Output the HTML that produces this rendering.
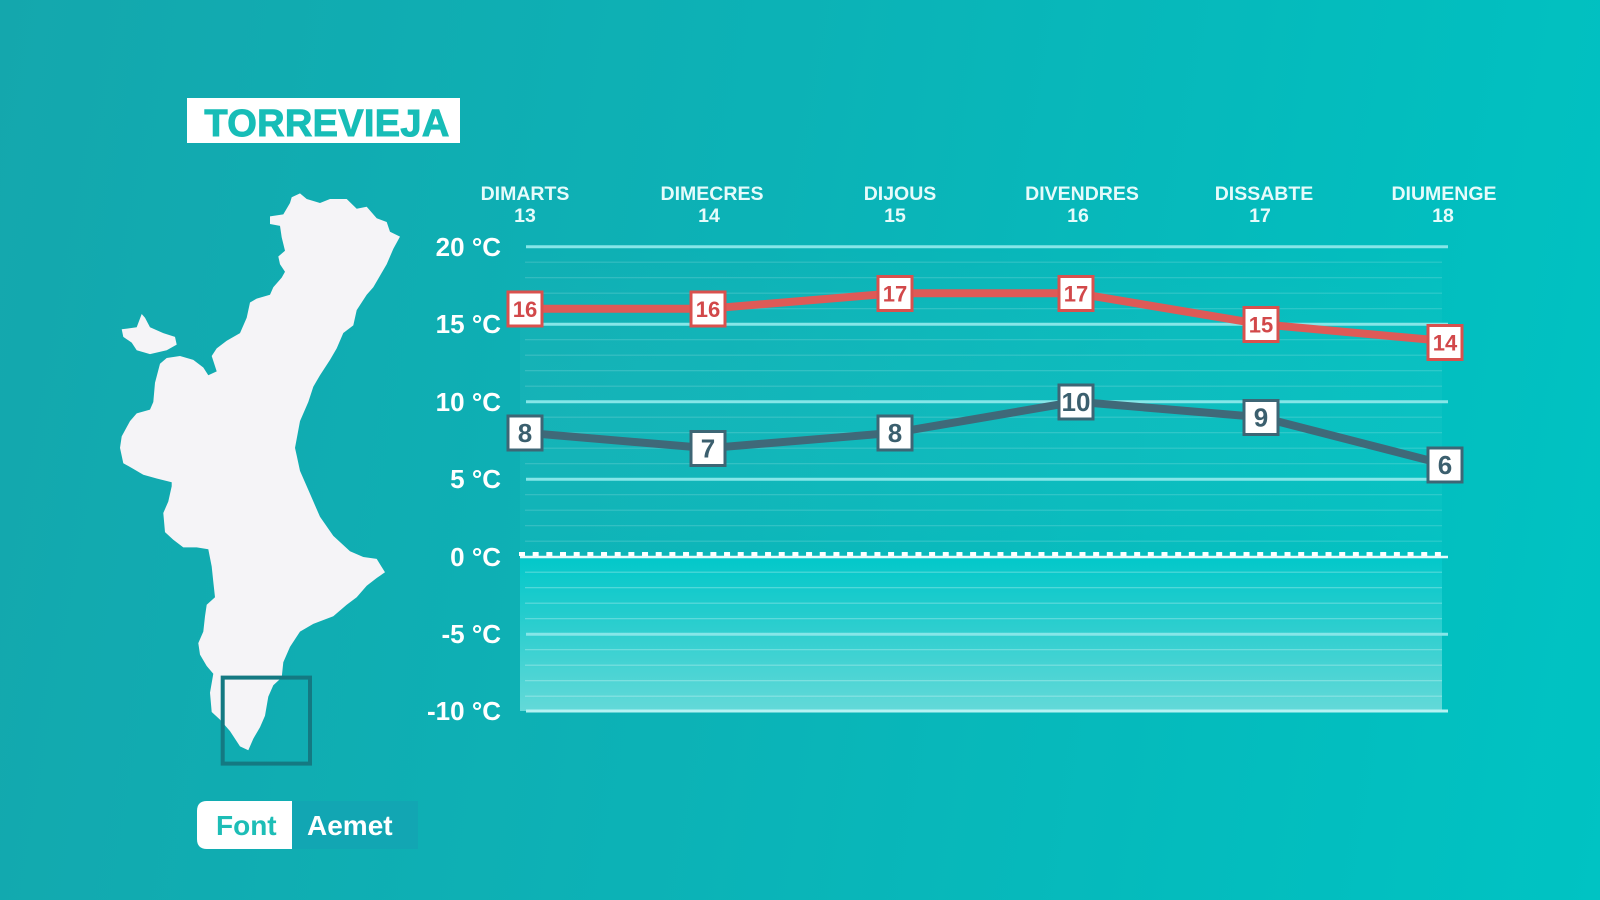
<!DOCTYPE html>
<html>
<head>
<meta charset="utf-8">
<style>
  html,body{margin:0;padding:0;}
  body{width:1600px;height:900px;overflow:hidden;position:relative;
    background:linear-gradient(100deg,#14a7ad 0%,#0cb2b6 45%,#03bdbe 80%,#00c3c3 100%);
    font-family:"Liberation Sans", Arial, sans-serif;}
  svg{position:absolute;left:0;top:0;}
</style>
</head>
<body>
<svg width="1600" height="900" viewBox="0 0 1600 900" xmlns="http://www.w3.org/2000/svg">
  <defs>
    <linearGradient id="neg" x1="0" y1="0" x2="0" y2="1">
      <stop offset="0" stop-color="#02c8ca"/>
      <stop offset="0.35" stop-color="#22cccd"/>
      <stop offset="1" stop-color="#63d9d8"/>
    </linearGradient>
    <linearGradient id="pos" x1="0" y1="0" x2="0" y2="1">
      <stop offset="0" stop-color="#ffffff" stop-opacity="0"/>
      <stop offset="1" stop-color="#10d0d0" stop-opacity="0.12"/>
    </linearGradient>
  </defs>

  <!-- Title -->
  <rect x="187" y="98" width="273" height="45" fill="#ffffff"/>
  <text x="327" y="136" text-anchor="middle" font-family="Liberation Sans, Arial, sans-serif" font-weight="bold" font-size="38" fill="#17bdb7" stroke="#17bdb7" stroke-width="1" letter-spacing="0.3">TORREVIEJA</text>

  <!-- Map -->
  <path fill="#f5f4f7" d="M291.7,197.2 L300,193.4 L306.7,199 L320,203 L330,199 L346.7,199 L356.7,208.7 L366.7,206.8 L376.7,218.3 L386.7,222 L390,231.7 L400,236.6 L393.3,248.9 L386.7,264.2 L380,275.7 L373.3,287.2 L366.7,294.8 L356.7,310.1 L353.3,325.4 L343.3,333 L336.7,348.4 L330,359.9 L320,375.2 L313.3,386.7 L308.3,402 L300,421.1 L295,447.9 L296.7,455.5 L300,470.9 L310,493.8 L320,516.8 L333.3,535.9 L350,551.2 L363.3,557 L376.7,558.9 L385,572.3 L376.7,578 L366.7,585.7 L356.7,597.2 L346.7,604.8 L333.3,616.3 L313.3,623.9 L300,631.6 L290,646.9 L283.3,662.2 L281.7,677.5 L273.3,685.2 L268.3,696.6 L265,715.8 L260,727.3 L253.3,738.7 L248.3,750.2 L240,746.4 L230,731.1 L220,719.6 L211.7,712 L210,692.8 L213.3,673.7 L206.7,666 L200,654.6 L198.3,643.1 L203.3,631.6 L205,616.3 L206.7,604.8 L215,597.2 L213.3,581.8 L211.7,566.5 L208.3,549.3 L196.7,547.4 L183.3,547.4 L173.3,539.7 L165,532.1 L163.3,513 L168.3,501.5 L171.7,486.2 L171.7,482.3 L156.7,478.5 L143.3,474.7 L133.3,468.9 L123.3,463.2 L120,447.9 L121.7,436.4 L130,421.1 L136.7,413.4 L150,409.6 L153.3,402 L155,382.8 L160,363.7 L166.7,358 L180,356 L193.3,359.9 L203.3,367.5 L208.3,375.2 L216.7,371.4 L211.7,356 L216.7,348.4 L226.7,340.7 L240,333.1 L246.7,317.8 L250,302.5 L256.7,298.6 L270,294.8 L273.3,287.2 L281.7,277.6 L285,271.8 L280,264.2 L278.3,256.5 L285,250.8 L281.7,237.4 L280,225.9 L270,224 L270,216.4 L283.3,214.4 L290,203 Z"/>
  <path fill="#f5f4f7" d="M121.7,329.3 L136.7,327.3 L141.7,314 L145,317.8 L150,327.3 L163.3,333.1 L175,336.9 L176.7,344.6 L166.7,350.3 L150,354.1 L136.7,350.3 L131.7,342.6 L123.3,336.9 Z"/>
  <rect x="222.7" y="677.6" width="87.3" height="86" fill="none" stroke="#147982" stroke-width="4"/>

  <!-- Source badge -->
  <rect x="292" y="801" width="126" height="48" fill="#12a6b3"/>
  <path d="M207,801 L292,801 L292,849 L207,849 Q197,849 197,839 L197,811 Q197,801 207,801 Z" fill="#ffffff"/>
  <text x="216" y="835" font-family="Liberation Sans, Arial, sans-serif" font-weight="bold" font-size="28" fill="#1dbdb6">Font</text>
  <text x="307" y="835" font-family="Liberation Sans, Arial, sans-serif" font-weight="bold" font-size="28" fill="#ffffff">Aemet</text>

  <!-- Chart backgrounds -->
  <rect x="520" y="247" width="922" height="310" fill="url(#pos)"/>
  <rect x="520" y="557" width="922" height="154" fill="url(#neg)"/>

  <!-- Minor grid lines -->
  <g stroke="#ffffff" stroke-opacity="0.17" stroke-width="1.2">
    <line x1="525" x2="1442" y1="262.2" y2="262.2"/>
    <line x1="525" x2="1442" y1="277.7" y2="277.7"/>
    <line x1="525" x2="1442" y1="293.2" y2="293.2"/>
    <line x1="525" x2="1442" y1="308.7" y2="308.7"/>
    <line x1="525" x2="1442" y1="339.7" y2="339.7"/>
    <line x1="525" x2="1442" y1="355.2" y2="355.2"/>
    <line x1="525" x2="1442" y1="370.7" y2="370.7"/>
    <line x1="525" x2="1442" y1="386.2" y2="386.2"/>
    <line x1="525" x2="1442" y1="417.2" y2="417.2"/>
    <line x1="525" x2="1442" y1="432.7" y2="432.7"/>
    <line x1="525" x2="1442" y1="448.2" y2="448.2"/>
    <line x1="525" x2="1442" y1="463.7" y2="463.7"/>
    <line x1="525" x2="1442" y1="494.7" y2="494.7"/>
    <line x1="525" x2="1442" y1="510.2" y2="510.2"/>
    <line x1="525" x2="1442" y1="525.7" y2="525.7"/>
    <line x1="525" x2="1442" y1="541.2" y2="541.2"/>
  </g>
  <g stroke="#ffffff" stroke-opacity="0.3" stroke-width="1.2">
    <line x1="525" x2="1442" y1="572.2" y2="572.2"/>
    <line x1="525" x2="1442" y1="587.7" y2="587.7"/>
    <line x1="525" x2="1442" y1="603.2" y2="603.2"/>
    <line x1="525" x2="1442" y1="618.7" y2="618.7"/>
    <line x1="525" x2="1442" y1="649.7" y2="649.7"/>
    <line x1="525" x2="1442" y1="665.2" y2="665.2"/>
    <line x1="525" x2="1442" y1="680.7" y2="680.7"/>
    <line x1="525" x2="1442" y1="696.2" y2="696.2"/>
  </g>

  <!-- Major grid lines -->
  <g stroke="#86e6e8" stroke-width="3">
    <line x1="526" x2="1448" y1="246.7" y2="246.7"/>
    <line x1="526" x2="1448" y1="324.2" y2="324.2"/>
    <line x1="526" x2="1448" y1="401.7" y2="401.7"/>
    <line x1="526" x2="1448" y1="479.2" y2="479.2"/>
    <line x1="526" x2="1448" y1="634.2" y2="634.2"/>
  </g>
  <line x1="526" x2="1448" y1="711" y2="711" stroke="#b5f2f2" stroke-width="3"/>

  <!-- Zero line -->
  <line x1="520" x2="1448" y1="557" y2="557" stroke="#e8fbfb" stroke-width="2.5"/>
  <line x1="519" x2="1442" y1="554" y2="554" stroke="#ffffff" stroke-width="4" stroke-dasharray="6 7.67"/>

  <!-- Axis labels -->
  <g font-family="Liberation Sans, Arial, sans-serif" font-weight="bold" font-size="26" fill="#ffffff" text-anchor="end">
    <text x="501" y="256">20 °C</text>
    <text x="501" y="333">15 °C</text>
    <text x="501" y="411">10 °C</text>
    <text x="501" y="488">5 °C</text>
    <text x="501" y="566">0 °C</text>
    <text x="501" y="643">-5 °C</text>
    <text x="501" y="720">-10 °C</text>
  </g>

  <!-- Day labels -->
  <g font-family="Liberation Sans, Arial, sans-serif" font-weight="bold" font-size="19.5" fill="#e6fbfb" text-anchor="middle">
    <text x="525" y="200">DIMARTS</text><text x="525" y="222">13</text>
    <text x="712" y="200">DIMECRES</text><text x="709" y="222">14</text>
    <text x="900" y="200">DIJOUS</text><text x="895" y="222">15</text>
    <text x="1082" y="200">DIVENDRES</text><text x="1078" y="222">16</text>
    <text x="1264" y="200">DISSABTE</text><text x="1260" y="222">17</text>
    <text x="1444" y="200">DIUMENGE</text><text x="1443" y="222">18</text>
  </g>

  <!-- Series lines -->
  <polyline points="525,308.7 708,308.7 895,293.2 1076,293.2 1261,324.2 1445,341" fill="none" stroke="#de5a57" stroke-width="8" stroke-linejoin="round"/>
  <polyline points="525,432.7 708,448.2 895,432.7 1076,401.7 1261,417.2 1445,464.5" fill="none" stroke="#3f6979" stroke-width="8" stroke-linejoin="round"/>

  <!-- Red boxes -->
  <g fill="#ffffff" stroke="#d9514e" stroke-width="3">
    <rect x="508" y="292" width="34" height="34"/>
    <rect x="691" y="292" width="34" height="34"/>
    <rect x="878" y="276.5" width="34" height="34"/>
    <rect x="1059" y="276.5" width="34" height="34"/>
    <rect x="1244" y="307.5" width="34" height="34"/>
    <rect x="1428" y="325.5" width="34" height="34"/>
  </g>
  <g font-family="Liberation Sans, Arial, sans-serif" font-weight="bold" font-size="22" fill="#d2484a" text-anchor="middle">
    <text x="525" y="317">16</text>
    <text x="708" y="317">16</text>
    <text x="895" y="301.5">17</text>
    <text x="1076" y="301.5">17</text>
    <text x="1261" y="332.5">15</text>
    <text x="1445" y="350.5">14</text>
  </g>

  <!-- Blue boxes -->
  <g fill="#ffffff" stroke="#3d6675" stroke-width="3">
    <rect x="508" y="416" width="34" height="34"/>
    <rect x="691" y="431.5" width="34" height="34"/>
    <rect x="878" y="416" width="34" height="34"/>
    <rect x="1059" y="385" width="34" height="34"/>
    <rect x="1244" y="400.5" width="34" height="34"/>
    <rect x="1428" y="448" width="34" height="34"/>
  </g>
  <g font-family="Liberation Sans, Arial, sans-serif" font-weight="bold" font-size="26" fill="#3b5f6e" text-anchor="middle">
    <text x="525" y="442">8</text>
    <text x="708" y="457.5">7</text>
    <text x="895" y="442">8</text>
    <text x="1076" y="411">10</text>
    <text x="1261" y="426.5">9</text>
    <text x="1445" y="474">6</text>
  </g>
</svg>
</body>
</html>
